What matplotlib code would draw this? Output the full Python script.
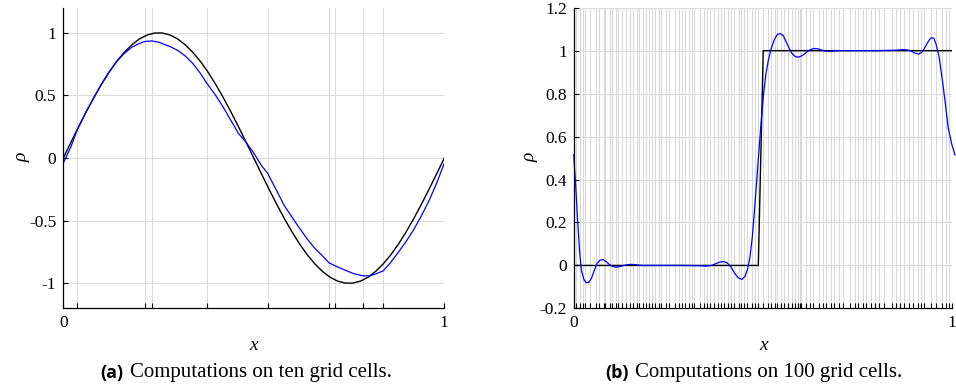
import matplotlib
matplotlib.use('Agg')
import matplotlib.pyplot as plt

plt.rcParams['font.family'] = 'Liberation Serif'
plt.rcParams['axes.unicode_minus'] = False

# (a) ten grid cells
cells_a = [0.0, 0.036, 0.214, 0.232, 0.376, 0.536, 0.697, 0.713, 0.786, 0.840, 1.0]
x_exact_a = [0.00, 0.02, 0.04, 0.06, 0.08, 0.10, 0.12, 0.14, 0.16, 0.18, 0.20, 0.22, 0.24,
             0.26, 0.28, 0.30, 0.32, 0.34, 0.36, 0.38, 0.40, 0.42, 0.44, 0.46, 0.48, 0.50,
             0.52, 0.54, 0.56, 0.58, 0.60, 0.62, 0.64, 0.66, 0.68, 0.70, 0.72, 0.74, 0.76,
             0.78, 0.80, 0.82, 0.84, 0.86, 0.88, 0.90, 0.92, 0.94, 0.96, 0.98, 1.00]
rho_exact_a = [0.0, 0.125, 0.249, 0.368, 0.482, 0.588, 0.685, 0.771, 0.844, 0.904, 0.951, 0.982, 0.998,
               0.998, 0.982, 0.951, 0.904, 0.844, 0.771, 0.685, 0.588, 0.482, 0.368, 0.249, 0.125, 0.0,
               -0.125, -0.249, -0.368, -0.482, -0.588, -0.685, -0.771, -0.844, -0.904, -0.951, -0.982, -0.998, -0.998,
               -0.982, -0.951, -0.904, -0.844, -0.771, -0.685, -0.588, -0.482, -0.368, -0.249, -0.125, 0.0]
x_num_a = [0.0, 0.02, 0.036, 0.06, 0.08, 0.10, 0.12, 0.14, 0.16, 0.18, 0.20, 0.214, 0.232,
           0.25, 0.28, 0.30, 0.32, 0.34, 0.36, 0.376, 0.40, 0.42, 0.44, 0.46, 0.48, 0.50,
           0.52, 0.536, 0.56, 0.58, 0.60, 0.62, 0.64, 0.66, 0.68, 0.697, 0.713, 0.74, 0.76,
           0.786, 0.805, 0.82, 0.84, 0.86, 0.88, 0.90, 0.92, 0.94, 0.96, 0.98, 1.0]
rho_num_a = [-0.04, 0.09, 0.22, 0.37, 0.48, 0.59, 0.685, 0.77, 0.835, 0.885, 0.915, 0.93, 0.935,
             0.925, 0.89, 0.86, 0.815, 0.755, 0.675, 0.60, 0.50, 0.405, 0.30, 0.195, 0.125, 0.04,
             -0.06, -0.12, -0.26, -0.38, -0.47, -0.56, -0.645, -0.72, -0.78, -0.835, -0.86, -0.895, -0.92,
             -0.94, -0.94, -0.925, -0.90, -0.83, -0.75, -0.665, -0.57, -0.46, -0.34, -0.20, -0.04]

# (b) 100 grid cells
cells_b = [0.000, 0.007, 0.016, 0.024, 0.031, 0.043, 0.058, 0.066, 0.079,
           0.084, 0.095, 0.101, 0.112, 0.118, 0.127, 0.138, 0.149, 0.156,
           0.168, 0.173, 0.184, 0.191, 0.199, 0.207, 0.215, 0.226, 0.232, 0.243,
           0.252, 0.268, 0.279, 0.286, 0.295, 0.305, 0.313, 0.318,
           0.333, 0.344, 0.353, 0.361, 0.372, 0.381, 0.389, 0.398, 0.409, 0.416,
           0.424, 0.436, 0.443, 0.451, 0.459, 0.470, 0.478, 0.488, 0.501, 0.513,
           0.521, 0.532, 0.538, 0.549, 0.557, 0.566, 0.576, 0.584, 0.594, 0.598,
           0.602, 0.614, 0.625, 0.633, 0.648, 0.659, 0.668, 0.679, 0.688,
           0.701, 0.712, 0.731, 0.743, 0.752, 0.764, 0.773, 0.785, 0.796,
           0.808, 0.819, 0.841, 0.853, 0.862, 0.874, 0.887, 0.896, 0.909,
           0.917, 0.926, 0.945, 0.957, 0.974, 0.985, 0.993, 1.000]
x_exact_b = [0.0, 0.488, 0.501, 0.998]
rho_exact_b = [0.0, 0.0, 1.0, 1.0]
x_num_b = [0.000, 0.005, 0.010, 0.015, 0.020, 0.027, 0.033, 0.040, 0.047, 0.055, 0.062, 0.070,
           0.078, 0.086, 0.094, 0.102, 0.110, 0.118, 0.128, 0.140, 0.152, 0.165, 0.18, 0.22,
           0.28, 0.33, 0.35, 0.365, 0.375, 0.385, 0.395, 0.405, 0.415, 0.425, 0.435, 0.445,
           0.453, 0.460, 0.466, 0.472, 0.478, 0.484, 0.490, 0.496, 0.502, 0.508, 0.515, 0.522,
           0.530, 0.538, 0.546, 0.554, 0.562, 0.570, 0.578, 0.586, 0.595, 0.605, 0.615, 0.625,
           0.635, 0.645, 0.655, 0.665, 0.68, 0.70, 0.75, 0.80, 0.85, 0.875, 0.89, 0.900,
           0.912, 0.922, 0.930, 0.938, 0.945, 0.952, 0.958, 0.966, 0.974, 0.982, 0.990, 1.000, 1.008]
rho_num_b = [0.515, 0.38, 0.22, 0.08, -0.02, -0.065, -0.08, -0.079, -0.06, -0.02, 0.01, 0.025,
             0.027, 0.018, 0.005, -0.004, -0.008, -0.007, -0.002, 0.003, 0.005, 0.003, 0.0, 0.0,
             0.0, -0.001, -0.003, 0.0, 0.008, 0.015, 0.018, 0.013, -0.005, -0.035, -0.058, -0.065,
             -0.05, -0.015, 0.04, 0.13, 0.26, 0.40, 0.54, 0.68, 0.80, 0.89, 0.96, 1.01,
             1.05, 1.075, 1.08, 1.07, 1.04, 1.01, 0.985, 0.972, 0.970, 0.978, 0.992, 1.004,
             1.010, 1.009, 1.003, 0.998, 0.997, 1.0, 1.0, 1.0, 1.002, 1.005, 1.0, 0.99,
             0.984, 0.995, 1.02, 1.045, 1.06, 1.058, 1.03, 0.97, 0.87, 0.76, 0.64, 0.56, 0.515]

W, H = 956, 391
fig = plt.figure(figsize=(W / 100, H / 100), dpi=100)
ax1 = fig.add_axes([63.3 / W, 82.6 / H, 381 / W, 300.7 / H])
ax2 = fig.add_axes([573.7 / W, 82.6 / H, 378.3 / W, 300.7 / H])


def style_panel(ax, cells, yticks, ylim):
    ax.set_xlim(0, 1)
    ax.set_ylim(ylim)
    ax.set_xticks(cells)
    ax.set_xticklabels(['0' if c == 0 else '1' if c == 1 else '' for c in cells])
    ax.set_yticks(yticks)
    ax.set_yticklabels(['%g' % v for v in yticks])
    ax.grid(True, color='#dcdcdc', lw=0.8)
    ax.set_axisbelow(True)
    ax.tick_params(direction='in', length=3.5, width=0.8, labelsize=12.5, pad=5)
    for s in ['top', 'right']:
        ax.spines[s].set_visible(False)
    for s in ['left', 'bottom']:
        ax.spines[s].set_linewidth(0.9)


ax1.plot(x_exact_a, rho_exact_a, color='black', lw=1.0)
ax1.plot(x_num_a, rho_num_a, color='#0000ff', lw=0.9)
style_panel(ax1, cells_a, [-1, -0.5, 0, 0.5, 1], (-1.2, 1.2))

ax2.plot(x_exact_b, rho_exact_b, color='black', lw=1.0)
ax2.plot(x_num_b, rho_num_b, color='#0000ff', lw=0.9, clip_on=False)
style_panel(ax2, cells_b, [-0.2, 0, 0.2, 0.4, 0.6, 0.8, 1, 1.2], (-0.2, 1.2))
ax2.grid(True, axis='x', color='#d9d9d9', lw=0.8)

# axis labels
for xc in [254, 764]:
    fig.text(xc / W, 1 - 345 / H, 'x', style='italic', fontsize=14, ha='center', va='center')
for xl in [22, 530]:
    fig.text(xl / W, 1 - 157 / H, 'ρ', style='italic', fontsize=14, rotation=90,
             ha='center', va='center')

# captions
renderer = fig.canvas.get_renderer()


def caption(xc, tag, rest):
    y = 1 - 373 / H
    t1 = fig.text(0, y, tag, family='Open Sans', weight='bold', fontsize=13, va='center')
    t2 = fig.text(0, y, rest, fontsize=15, va='center')
    w1 = t1.get_window_extent(renderer).width
    w2 = t2.get_window_extent(renderer).width
    gap = 6
    x0 = xc - (w1 + gap + w2) / 2
    t1.set_x(x0 / W)
    t2.set_x((x0 + w1 + gap) / W)


caption(246, '(a)', 'Computations on ten grid cells.')
caption(754, '(b)', 'Computations on 100 grid cells.')

fig.savefig('out.png', dpi=100)
